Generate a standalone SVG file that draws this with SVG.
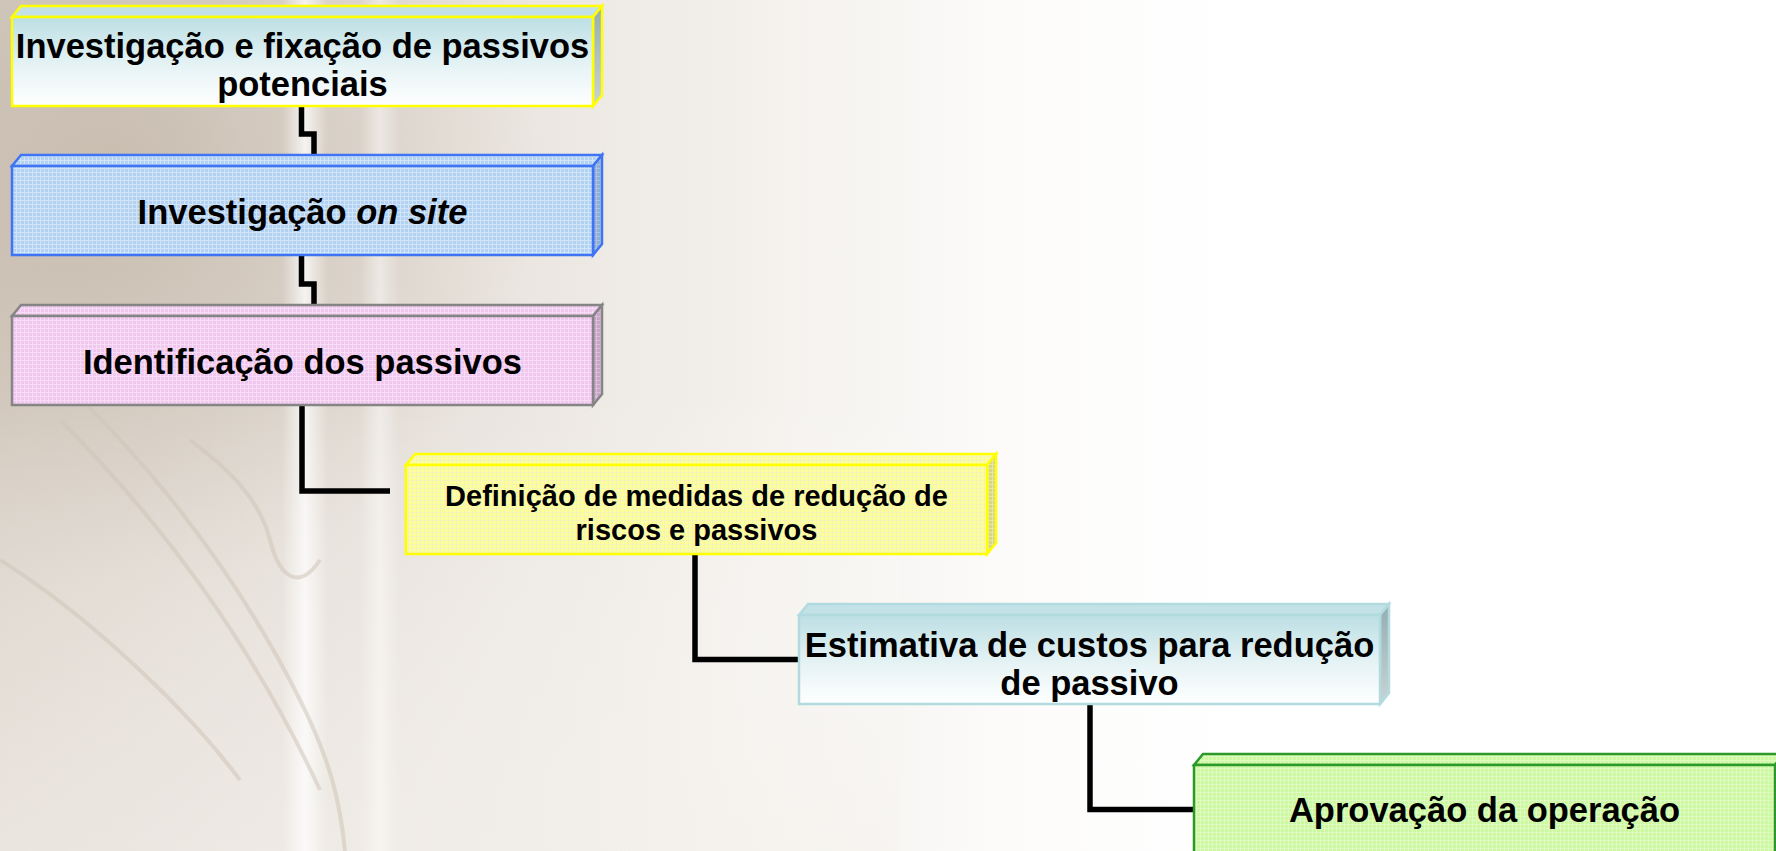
<svg xmlns="http://www.w3.org/2000/svg" width="1776" height="851" viewBox="0 0 1776 851">
<defs>
  <linearGradient id="bgH" x1="0" y1="0" x2="1776" y2="0" gradientUnits="userSpaceOnUse">
    <stop offset="0" stop-color="#d8cfc5"/>
    <stop offset="0.22" stop-color="#e6e0d9"/>
    <stop offset="0.42" stop-color="#f3f0ec"/>
    <stop offset="0.58" stop-color="#fdfcfb"/>
    <stop offset="0.7" stop-color="#ffffff"/>
  </linearGradient>
  <radialGradient id="bgR" cx="120" cy="170" r="420" gradientUnits="userSpaceOnUse">
    <stop offset="0" stop-color="#b9aa9a" stop-opacity="0.55"/>
    <stop offset="1" stop-color="#b9aa9a" stop-opacity="0"/>
  </radialGradient>
  <linearGradient id="bgV" x1="0" y1="0" x2="0" y2="851" gradientUnits="userSpaceOnUse">
    <stop offset="0.45" stop-color="#ffffff" stop-opacity="0"/>
    <stop offset="1" stop-color="#f6f3ef" stop-opacity="0.6"/>
  </linearGradient>
  <linearGradient id="streak" x1="0" y1="0" x2="1" y2="0">
    <stop offset="0" stop-color="#ffffff" stop-opacity="0"/>
    <stop offset="0.5" stop-color="#ffffff" stop-opacity="0.75"/>
    <stop offset="1" stop-color="#ffffff" stop-opacity="0"/>
  </linearGradient>
  <linearGradient id="cyanFront" x1="0" y1="0" x2="0" y2="1">
    <stop offset="0" stop-color="#bcdfe4"/>
    <stop offset="0.55" stop-color="#e6f3f5"/>
    <stop offset="1" stop-color="#ffffff"/>
  </linearGradient>
  <linearGradient id="cyanSide" x1="0" y1="0" x2="0" y2="1">
    <stop offset="0" stop-color="#93aeb3"/>
    <stop offset="1" stop-color="#c9d3d5"/>
  </linearGradient>
  <pattern id="pBlue" width="4" height="4" patternUnits="userSpaceOnUse">
    <rect width="4" height="4" fill="#b3d2f3"/>
    <path d="M0 0.5H4M0.5 0V4" stroke="#d2e4f8" stroke-width="1"/>
  </pattern>
  <pattern id="pBlueSide" width="4" height="4" patternUnits="userSpaceOnUse">
    <rect width="4" height="4" fill="#8eaed6"/>
    <path d="M0 0.5H4M0.5 0V4" stroke="#a9c2e2" stroke-width="1"/>
  </pattern>
  <pattern id="pPink" width="4" height="4" patternUnits="userSpaceOnUse">
    <rect width="4" height="4" fill="#f1c6ef"/>
    <path d="M0 0.5H4M0.5 0V4" stroke="#f7dcf5" stroke-width="1"/>
  </pattern>
  <pattern id="pPinkSide" width="4" height="4" patternUnits="userSpaceOnUse">
    <rect width="4" height="4" fill="#c9a4c8"/>
    <path d="M0 0.5H4M0.5 0V4" stroke="#dbbcda" stroke-width="1"/>
  </pattern>
  <pattern id="pYellow" width="4" height="4" patternUnits="userSpaceOnUse">
    <rect width="4" height="4" fill="#ffff99"/>
    <path d="M0 0.5H4M0.5 0V4" stroke="#f4f4b8" stroke-width="1"/>
  </pattern>
  <pattern id="pYellowSide" width="4" height="4" patternUnits="userSpaceOnUse">
    <rect width="4" height="4" fill="#d6d68a"/>
    <path d="M0 0.5H4M0.5 0V4" stroke="#e6e6a8" stroke-width="1"/>
  </pattern>
  <pattern id="pGreen" width="4" height="4" patternUnits="userSpaceOnUse">
    <rect width="4" height="4" fill="#ccf9a0"/>
    <path d="M0 0.5H4M0.5 0V4" stroke="#def9c2" stroke-width="1"/>
  </pattern>
  <pattern id="pGreenSide" width="4" height="4" patternUnits="userSpaceOnUse">
    <rect width="4" height="4" fill="#a6cf80"/>
    <path d="M0 0.5H4M0.5 0V4" stroke="#bcdc9c" stroke-width="1"/>
  </pattern>
</defs>
<style>
  .face { stroke-width: 2.5; stroke-linejoin: miter; }
  .yel { stroke: #ffff00; }
  .blu { stroke: #3f74f4; }
  .gry { stroke: #858585; }
  .tea { stroke: #b2dbe0; }
  .grn { stroke: #2b9a2b; }
  .lbl { font-family: "Liberation Sans", Arial, sans-serif; font-weight: bold; fill: #000000; text-anchor: middle; }
  .big { font-size: 34.5px; }
  .small { font-size: 29px; }
  .conn { fill: none; stroke: #000000; stroke-width: 5.5; stroke-linejoin: miter; stroke-linecap: butt; }
  .deco { fill: none; stroke: #cfc4b8; stroke-width: 4; opacity: 0.55; }
</style>

<g id="background">
  <rect x="0" y="0" width="1776" height="851" fill="url(#bgH)"/>
  <rect x="0" y="0" width="900" height="851" fill="url(#bgR)"/>
  <rect x="0" y="0" width="900" height="851" fill="url(#bgV)"/>
  <rect x="282" y="0" width="46" height="851" fill="url(#streak)"/>
  <rect x="360" y="0" width="40" height="851" fill="url(#streak)" opacity="0.6"/>
  <path class="deco" d="M0 330 C120 420 230 560 300 700 C330 760 340 800 345 851"/>
  <path class="deco" d="M60 420 C160 520 250 640 320 790"/>
  <path class="deco" d="M0 560 C80 610 180 700 240 780"/>
  <path class="deco" d="M190 440 C230 470 260 500 270 540 C280 580 300 590 320 560"/>
</g>

<g id="connectors">
  <path class="conn" d="M301.5 106 V134 H314 V155"/>
  <path class="conn" d="M301.5 255 V284 H314 V305"/>
  <path class="conn" d="M302 405 V491 H390"/>
  <path class="conn" d="M695 555 V659.5 H799"/>
  <path class="conn" d="M1090 704 V809.5 H1194"/>
</g>

<g id="node1">
  <polygon class="face yel" fill="#c3e2e7" points="12,17 21,6 602,6 593,17"/>
  <polygon class="face yel" fill="url(#cyanSide)" points="593,17 602,6 602,95 593,106"/>
  <rect class="face yel" x="12" y="17" width="581" height="89" fill="url(#cyanFront)"/>
  <text class="lbl big" x="302.5" y="58">Investigação e fixação de passivos</text>
  <text class="lbl big" x="302.5" y="96">potenciais</text>
</g>

<g id="node2">
  <polygon class="face blu" fill="url(#pBlue)" points="12,166 21,155 602,155 593,166"/>
  <polygon class="face blu" fill="url(#pBlueSide)" points="593,166 602,155 602,244 593,255"/>
  <rect class="face blu" x="12" y="166" width="581" height="89" fill="url(#pBlue)"/>
  <text class="lbl big" x="302.5" y="224">Investigação <tspan font-style="italic">on site</tspan></text>
</g>

<g id="node3">
  <polygon class="face gry" fill="url(#pPink)" points="12,316 21,305 602,305 593,316"/>
  <polygon class="face gry" fill="url(#pPinkSide)" points="593,316 602,305 602,394 593,405"/>
  <rect class="face gry" x="12" y="316" width="581" height="89" fill="url(#pPink)"/>
  <text class="lbl big" x="302.5" y="374">Identificação dos passivos</text>
</g>

<g id="node4">
  <polygon class="face yel" fill="url(#pYellow)" points="406,465 415,454 996,454 987,465"/>
  <polygon class="face yel" fill="url(#pYellowSide)" points="987,465 996,454 996,543 987,554"/>
  <rect class="face yel" x="406" y="465" width="581" height="89" fill="url(#pYellow)"/>
  <text class="lbl small" x="696.5" y="506">Definição de medidas de redução de</text>
  <text class="lbl small" x="696.5" y="540">riscos e passivos</text>
</g>

<g id="node5">
  <polygon class="face tea" fill="#c3e2e7" points="799,615 808,604 1389,604 1380,615"/>
  <polygon class="face tea" fill="url(#cyanSide)" points="1380,615 1389,604 1389,693 1380,704"/>
  <rect class="face tea" x="799" y="615" width="581" height="89" fill="url(#cyanFront)"/>
  <text class="lbl big" x="1089.5" y="657">Estimativa de custos para redução</text>
  <text class="lbl big" x="1089.5" y="695">de passivo</text>
</g>

<g id="node6">
  <polygon class="face grn" fill="url(#pGreen)" points="1194,765 1203,754 1784,754 1775,765"/>
  <polygon class="face grn" fill="url(#pGreenSide)" points="1775,765 1784,754 1784,843 1775,854"/>
  <rect class="face grn" x="1194" y="765" width="581" height="89" fill="url(#pGreen)"/>
  <text class="lbl big" x="1484.5" y="822">Aprovação da operação</text>
</g>
</svg>
